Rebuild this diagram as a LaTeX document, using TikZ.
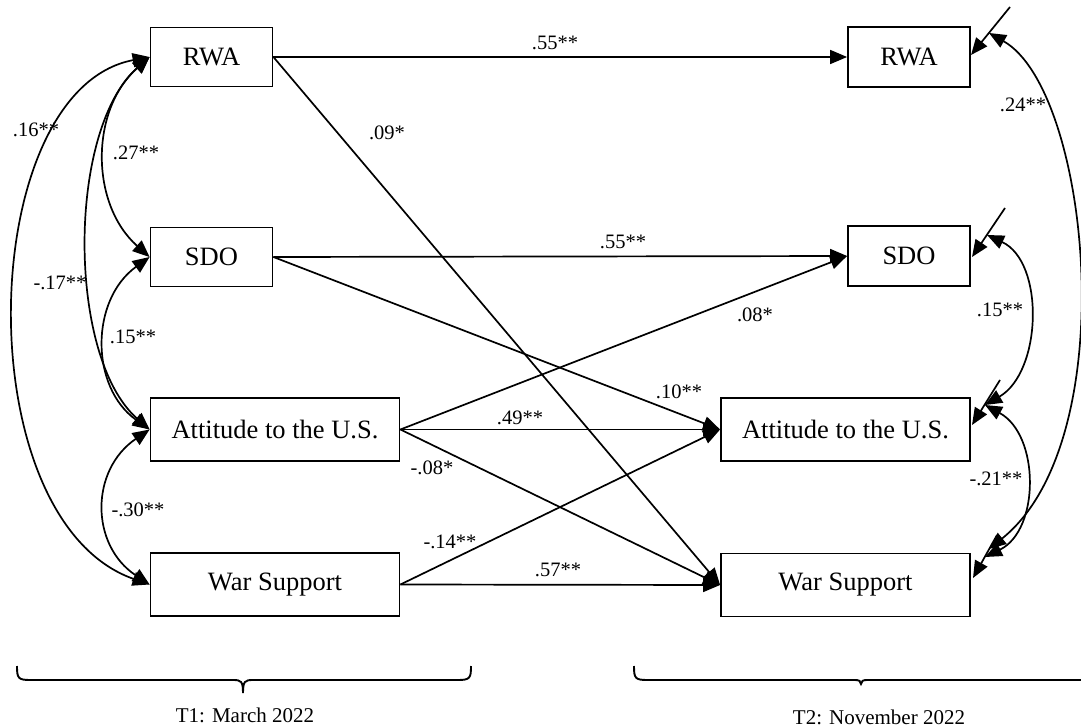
\documentclass[tikz,border=0pt]{standalone}
\usepackage{fontspec}
\setmainfont{Liberation Serif}
\usetikzlibrary{arrows.meta}
\begin{document}
\begin{tikzpicture}[x=1pt,y=-1pt,
  var/.style={draw,line width=1.8pt,minimum height=59pt,inner sep=0pt,font=\fontsize{26.5}{31}\selectfont},
  smallvar/.style={var,minimum width=122pt},
  widevar/.style={var,minimum width=249pt},
  path/.style={line width=1.7pt,-{Triangle[length=17pt,width=14pt]}},
  cov/.style={line width=1.7pt,{Triangle[length=17pt,width=14pt]}-{Triangle[length=17pt,width=14pt]}},
  lab/.style={inner sep=0pt,font=\fontsize{20.5}{24}\selectfont},
  tlab/.style={inner sep=0pt,font=\fontsize{21}{25}\selectfont},
  brace/.style={line width=1.9pt}]
\fill[white] (0,0) rectangle (1081,727);
\useasboundingbox (0,0) rectangle (1081,727);

% T1 boxes
\node[smallvar] (rwa1) at (211.5,57) {RWA};
\node[smallvar] (sdo1) at (211.5,257) {SDO};
\node[widevar,minimum height=63pt] (att1) at (275,429.5) {Attitude to the U.S.};
\node[widevar,minimum height=63pt] (war1) at (275,584.5) {War Support};
% T2 boxes
\node[smallvar,minimum height=60pt] (rwa2) at (909,57) {RWA};
\node[smallvar,minimum height=60pt] (sdo2) at (909,256) {SDO};
\node[widevar,minimum height=63pt] (att2) at (845.5,429.5) {Attitude to the U.S.};
\node[widevar,minimum height=63pt] (war2) at (845.5,585) {War Support};

% paths
\draw[path] (rwa1.east) -- (rwa2.west);
\draw[path] (rwa1.east) -- (war2.west);
\draw[path] (sdo1.east) -- (sdo2.west);
\draw[path] (sdo1.east) -- (att2.west);
\draw[path] (att1.east) -- (sdo2.west);
\draw[path] (att1.east) -- (att2.west);
\draw[path] (att1.east) -- (war2.west);
\draw[path] (war1.east) -- (att2.west);
\draw[path] (war1.east) -- (war2.west);

\node[lab] (l1) at (555,43) {.55**};
\node[lab] (l2) at (387,133) {.09*};
\node[lab] (l3) at (623,242) {.55**};
\node[lab] (l4) at (679,392) {.10**};
\node[lab] (l5) at (755,315) {.08*};
\node[lab] (l6) at (520,418) {.49**};
\node[lab] (l7) at (432,468) {-.08*};
\node[lab] (l8) at (450,542) {-.14**};
\node[lab] (l9) at (558,570) {.57**};

% T1 covariances
\draw[cov] (rwa1.west) .. controls (90,110) and (90,204) .. (sdo1.west);
\draw[cov] (rwa1.west) .. controls (67,130) and (67,357) .. (att1.west);
\draw[cov] (rwa1.west) .. controls (-25,90) and (-35,520) .. (war1.west);
\draw[cov] (sdo1.west) .. controls (90,300) and (90,387) .. (att1.west);
\draw[cov] (att1.west) .. controls (90,470) and (90,545) .. (war1.west);

\node[lab] (c1) at (36,130) {.16**};
\node[lab] (c2) at (136,153) {.27**};
\node[lab] (c3) at (60,283) {-.17**};
\node[lab] (c4) at (133,337) {.15**};
\node[lab] (c5) at (138,510) {-.30**};

% residuals
\coordinate (e1s) at (1010,7);   \coordinate (e1t) at (971,55);
\coordinate (e2s) at (1005,208); \coordinate (e2t) at (972,257);
\coordinate (e3s) at (1000,380); \coordinate (e3t) at (972,425);
\coordinate (e4s) at (997,535);  \coordinate (e4t) at (973,578);
\draw[path] (e1s) -- (e1t);
\draw[path] (e2s) -- (e2t);
\draw[path] (e3s) -- (e3t);
\draw[path] (e4s) -- (e4t);
\coordinate (p1) at (989,33);
\coordinate (p2) at (987,235);
\coordinate (p3) at (985,405);
\coordinate (p4a) at (989,549);
\coordinate (p4b) at (985,557);

% T2 covariances
\draw[cov] (p1) .. controls (1090,90) and (1125,440) .. (p4a);
\draw[cov] (p2) .. controls (1045,262) and (1042,372) .. (p3);
\draw[cov] (p3) .. controls (1040,435) and (1040,530) .. (p4b);

\node[lab] (d1) at (1023,105) {.24**};
\node[lab] (d2) at (1000,310) {.15**};
\node[lab] (d3) at (996,479) {-.21**};

% braces
\draw[brace] (17,666) .. controls (17,678) and (18,680) .. (30,680) -- (233,680)
  .. controls (241,680) and (243,681) .. (243,693)
  .. controls (243,681) and (245,680) .. (253,680) -- (458,680)
  .. controls (470,680) and (471,678) .. (471,666);
\draw[brace] (634,666) .. controls (634,678) and (635,680) .. (647,680) -- (855,680)
  .. controls (859,680) and (861,681) .. (861,684)
  .. controls (861,681) and (863,680) .. (867,680) -- (1090,680);
\node[tlab] (t1) at (245,715) {T1: March 2022};
\node[tlab] (t2) at (879,717) {T2: November 2022};
\end{tikzpicture}
\end{document}
